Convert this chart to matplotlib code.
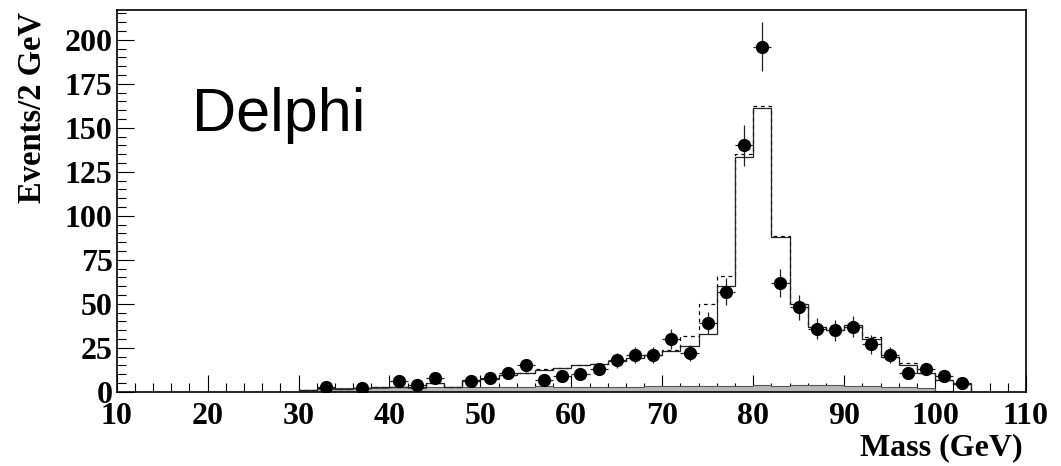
import numpy as np
import matplotlib
matplotlib.use("Agg")
import matplotlib.pyplot as plt
from matplotlib.ticker import MultipleLocator

# 2 GeV bins from 30 to 104 GeV
edges = np.arange(30, 105, 2)

# simulated total (solid line)
mc_total = [1, 2, 1.5, 2, 3, 3, 3, 5, 3, 6.5, 7.5, 9.5, 11, 12.5, 13.5, 15, 16,
             17.5, 19.5, 21, 23, 26, 33, 60, 133.5, 161.5, 88, 50, 37, 35, 38,
             30, 20, 15, 11, 7, 4.5]

# alternative simulation (dashed line)
mc_alt = [1, 2, 1.5, 2, 3, 3, 3, 5, 3, 6.5, 7.5, 9.5, 11, 13, 13.5, 15, 16,
           17.5, 19.5, 21, 24, 32, 50, 66, 135, 162.5, 88.5, 50, 37, 35, 38,
           31, 20, 16.5, 11, 7, 4.5]

# background component (grey)
background = [1, 1.5, 2, 2.5, 2.5, 3, 2.5, 3, 3, 3, 3, 3, 3, 3.5, 3,
              3, 3, 3, 3, 3.5, 3.5, 3.5, 3.5, 3.5, 3.5, 4, 3.5, 4, 4, 4, 3.5,
              3.5, 3, 3, 2, 0.5, 0]

# measured events per bin
mass = [33, 37, 41, 43, 45, 49, 51, 53, 55, 57, 59, 61, 63, 65, 67, 69, 71,
        73, 75, 77, 79, 81, 83, 85, 87, 89, 91, 93, 95, 97, 99, 101, 103]
events = [3, 2, 6, 4, 8, 6, 8, 11, 15, 7, 9, 10, 13, 18, 21, 21, 30,
          22, 39, 57, 140, 196, 62, 48, 36, 35, 37, 27, 21, 11, 13, 9, 5]

xticks = list(range(10, 111, 10))
yticks = list(range(0, 201, 25))

serif = "Liberation Serif"

fig = plt.figure(figsize=(10.61, 4.66), dpi=100)
ax = fig.add_axes([0.110, 0.159, 0.857, 0.820])

ax.stairs(background, edges, fill=True, facecolor="#b8b8b8",
          edgecolor="#555555", linewidth=0.8, zorder=2)
ax.stairs(mc_alt, edges, color="black", linewidth=0.9,
          linestyle=(0, (3, 3)), zorder=3)
ax.stairs(mc_total, edges, color="#222222", linewidth=0.9, zorder=4)

ax.errorbar(mass, events, yerr=np.sqrt(events), xerr=1, fmt="o",
            color="black", ecolor="#222222", markersize=8.5,
            elinewidth=0.9, capsize=0, zorder=5)

ax.text(18.3, 148, "Delphi", family="Liberation Sans", fontsize=44,
        va="baseline", ha="left")

ax.set_xlim(10, 110)
ax.set_ylim(0, 217)
ax.set_xticks(xticks)
ax.set_yticks(yticks)
ax.xaxis.set_minor_locator(MultipleLocator(2))
ax.yaxis.set_minor_locator(MultipleLocator(5))
ax.tick_params(which="both", direction="in", width=0.8, top=False, right=False)
ax.tick_params(which="major", length=12)
ax.tick_params(which="minor", length=6.5)
ax.tick_params(axis="x", pad=7)
ax.tick_params(axis="y", pad=3)

for lab in ax.get_xticklabels() + ax.get_yticklabels():
    lab.set_family(serif)
    lab.set_fontweight("bold")
    lab.set_fontsize(23)

for side in ax.spines.values():
    side.set_linewidth(1.2)

fig.text(0.030, 0.975, "Events/2 GeV", family=serif, fontweight="bold",
         fontsize=23.5, rotation=90, ha="center", va="top")
fig.text(0.964, 0.008, "Mass (GeV)", family=serif, fontweight="bold",
         fontsize=23, ha="right", va="bottom")

fig.savefig("out.png", dpi=100)
